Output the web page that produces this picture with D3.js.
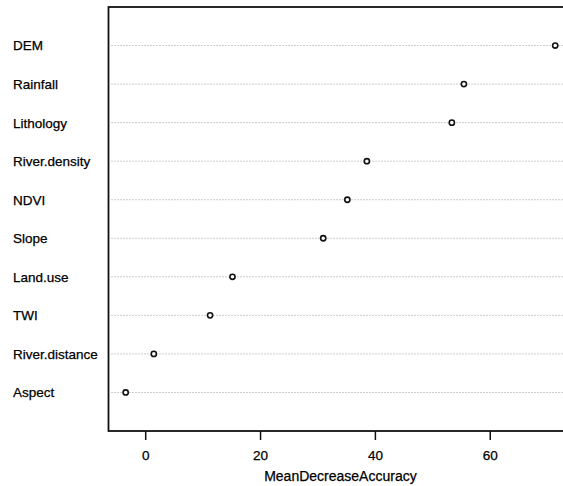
<!DOCTYPE html>
<html>
<head>
<meta charset="utf-8">
<script src="https://cdn.jsdelivr.net/npm/d3@7"></script>
<style>
  body { margin: 0; background: #fff; }
  svg { display: block; font-family: "Liberation Sans", Arial, sans-serif; }
  text { stroke: #000; stroke-width: 0.25px; }
</style>
</head>
<body>
<div id="chart"></div>
<script>
//////////////////////////////// Data ////////////////////////////////
var variables = ["DEM", "Rainfall", "Lithology", "River.density", "NDVI",
  "Slope", "Land.use", "TWI", "River.distance", "Aspect"]
var accuracy = [71.4, 55.5, 53.4, 38.6, 35.2, 31.0, 15.2, 11.3, 1.5, -3.4]
var xTicks = [0, 20, 40, 60]
var xTitle = "MeanDecreaseAccuracy"

//////////////////////////////// Setup ///////////////////////////////
var totalWidth = 563, totalHeight = 486
var box = { left: 108.5, top: 7, bottom: 431 }

var svg = d3.select("#chart").append("svg")
  .attr("width", totalWidth)
  .attr("height", totalHeight)

// R style: data range widened by 4% on each side
var lo = d3.min(accuracy), hi = d3.max(accuracy)
var pad = (hi - lo) * 0.04
var xScale = d3.scaleLinear()
  .domain([lo - pad, hi + pad])
  .range([box.left, 145 + (hi + pad) * 5.745])

var yScale = d3.scalePoint()
  .domain(variables)
  .range([box.top, box.bottom])
  .padding(1)

var right = xScale.range()[1]

//////////////////////////////// Rows ////////////////////////////////
var rows = svg.append("g").selectAll("g")
  .data(variables)
  .join("g")
  .attr("transform", d => "translate(0," + yScale(d) + ")")

rows.append("line")
  .attr("x1", box.left + 3)
  .attr("x2", right)
  .attr("stroke", "#9a9a9a")
  .attr("stroke-width", 1)
  .attr("stroke-dasharray", "1,2")

rows.append("text")
  .attr("x", 13)
  .attr("dy", "0.36em")
  .attr("font-size", 13.5)
  .attr("fill", "#000")
  .text(d => d)

rows.append("circle")
  .attr("cx", (d, i) => xScale(accuracy[i]))
  .attr("r", 2.6)
  .attr("fill", "#fff")
  .attr("stroke", "#111")
  .attr("stroke-width", 1.6)

//////////////////////////////// Box /////////////////////////////////
svg.append("rect")
  .attr("x", box.left)
  .attr("y", box.top)
  .attr("width", right - box.left)
  .attr("height", box.bottom - box.top)
  .attr("fill", "none")
  .attr("stroke", "#111")
  .attr("stroke-width", 1.8)

//////////////////////////////// Axis ////////////////////////////////
var xAxis = d3.axisBottom(xScale)
  .tickValues(xTicks)
  .tickSize(9)
  .tickPadding(10)

var gx = svg.append("g")
  .attr("transform", "translate(0," + box.bottom + ")")
  .call(xAxis)

gx.select(".domain").remove()
gx.selectAll(".tick line").attr("stroke", "#111").attr("stroke-width", 1.5)
gx.selectAll(".tick text")
  .attr("font-size", 13.5)
  .attr("font-family", "Liberation Sans, Arial, sans-serif")
  .attr("fill", "#000")

svg.append("text")
  .attr("x", (box.left + right) / 2)
  .attr("y", 481)
  .attr("text-anchor", "middle")
  .attr("font-size", 14)
  .attr("fill", "#000")
  .text(xTitle)
</script>
</body>
</html>
